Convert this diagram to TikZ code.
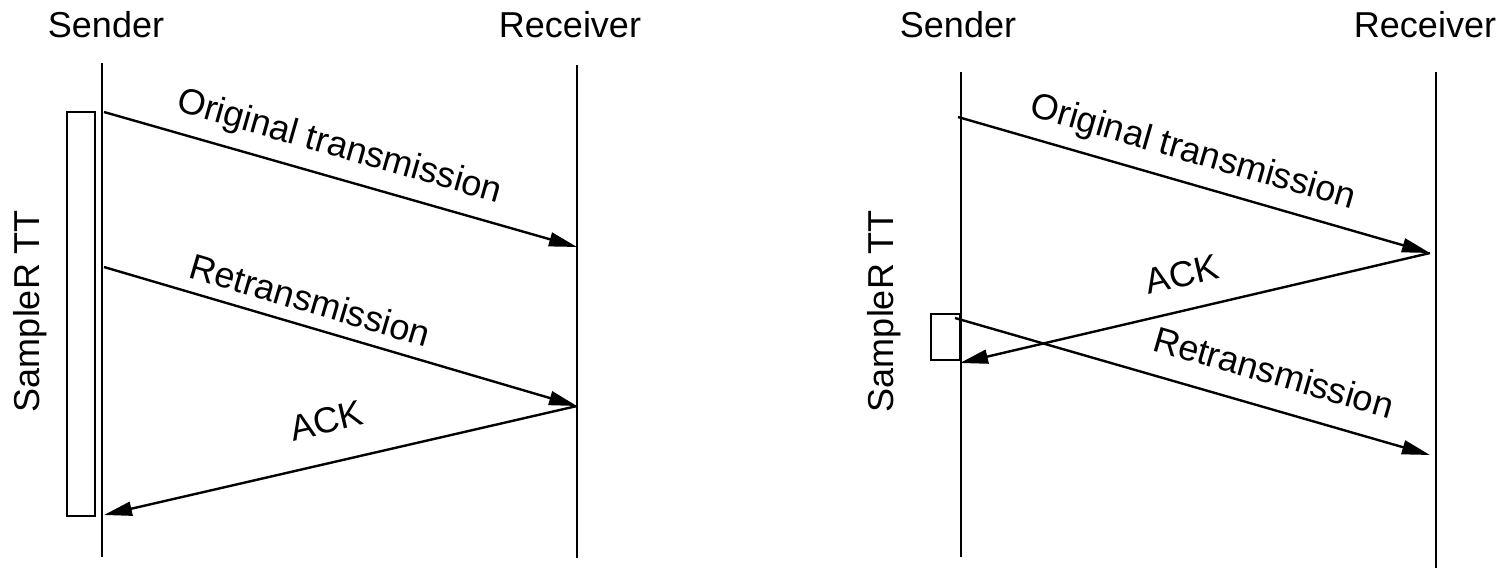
\documentclass[tikz,border=0pt]{standalone}
\usepackage{fontspec}
\setmainfont{Liberation Sans}
\usetikzlibrary{arrows.meta}
\tikzstyle{line} = [draw, line width=1.2pt, -{Triangle[length=14pt, width=7pt]}]
\tikzstyle{ackline} = [draw, line width=1.2pt, {Triangle[length=14pt, width=7pt]}-]
\tikzstyle{life} = [draw, line width=1pt]
\tikzstyle{rtt} = [draw, line width=1pt]
\tikzstyle{actor} = [inner sep=0pt, font=\fontsize{18}{20}\selectfont]
\tikzstyle{msg} = [sloped, above=6pt, inner sep=0pt, font=\fontsize{18}{20}\selectfont]

\begin{document}
\begin{tikzpicture}[x=0.5pt, y=-0.5pt]
	\useasboundingbox (0,0) rectangle (1505,568);
	
	% left: timer runs over the retransmission
	\node [actor] (s1) at (106,25) {Sender};
	\node [actor] (r1) at (570,25) {Receiver};
	\node [actor, rotate=90] (tt1) at (30,311) {SampleR TT};
	\coordinate (s1top) at (102,63);
	\coordinate (s1bot) at (102,557);
	\coordinate (r1top) at (577,65);
	\coordinate (r1bot) at (577,558);
	\path [life] (s1top) -- (s1bot);
	\path [life] (r1top) -- (r1bot);
	\draw [rtt] (67,112) rectangle (95,516);
	
	\coordinate (s1o) at (104,112);
	\coordinate (r1o) at (577,247);
	\coordinate (s1r) at (104,267);
	\coordinate (r1r) at (577,406);
	\coordinate (s1a) at (104,515);
	
	\path [line] (s1o) -- node [msg, pos=0.48] {Original transmission} (r1o);
	\path [line] (s1r) -- node [msg, pos=0.42] {Retransmission} (r1r);
	\path [ackline] (s1a) -- node [msg, pos=0.49, above=8pt] {ACK} (r1r);
	
	% right: ACK comes back after the retransmission
	\node [actor] (s2) at (958,25) {Sender};
	\node [actor] (r2) at (1425,25) {Receiver};
	\node [actor, rotate=90] (tt2) at (884,311) {SampleR TT};
	\coordinate (s2top) at (961,72);
	\coordinate (s2bot) at (961,557);
	\coordinate (r2top) at (1436,72);
	\coordinate (r2bot) at (1436,568);
	\path [life] (s2top) -- (s2bot);
	\path [life] (r2top) -- (r2bot);
	\draw [rtt] (931,314) rectangle (960,360);
	
	\coordinate (s2o) at (958,117);
	\coordinate (r2o) at (1430,253);
	\coordinate (s2a) at (960,363);
	\coordinate (s2r) at (955,318);
	\coordinate (r2r) at (1430,455);
	
	\path [line] (s2o) -- node [msg, pos=0.48] {Original transmission} (r2o);
	\path [ackline] (s2a) -- node [msg, pos=0.49, above=5pt] {ACK} (r2o);
	\path [line] (s2r) -- node [msg, pos=0.65, above=5pt] {Retransmission} (r2r);
\end{tikzpicture}
\end{document}
